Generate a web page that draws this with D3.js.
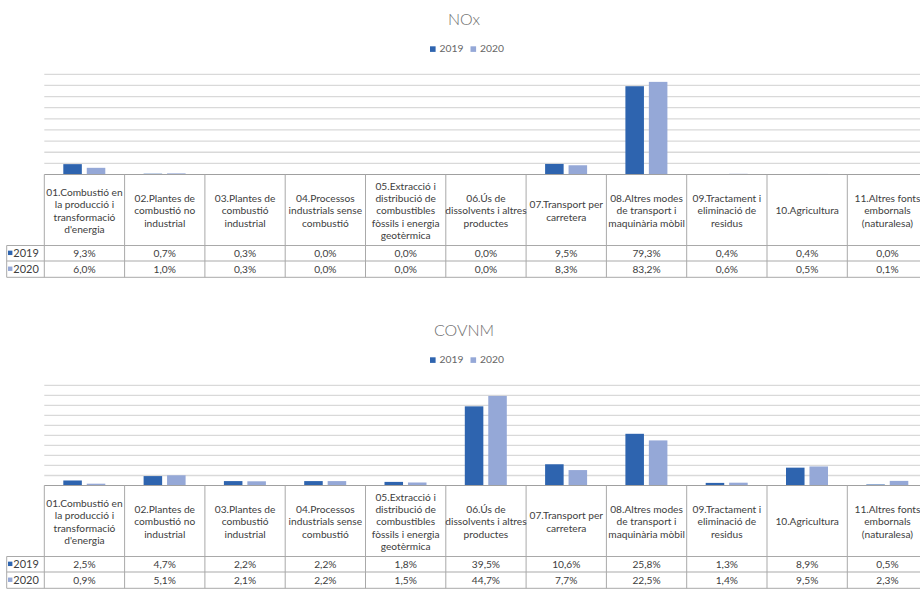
<!DOCTYPE html>
<html>
<head>
<meta charset="utf-8">
<script src="https://cdn.jsdelivr.net/npm/d3@7"></script>
<style>
  html, body { margin: 0; padding: 0; background: #fff; }
  svg { display: block; font-family: Lato, "Open Sans", sans-serif; }
</style>
</head>
<body>
<svg id="chart" width="920" height="589"></svg>
<script>
// Emission sources (header text broken into lines as shown in the table)
const categories = [
  ["01.Combustió en", "la producció i", "transformació", "d'energia"],
  ["02.Plantes de", "combustió no", "industrial"],
  ["03.Plantes de", "combustió", "industrial"],
  ["04.Processos", "industrials sense", "combustió"],
  ["05.Extracció i", "distribució de", "combustibles", "fòssils i energia", "geotèrmica"],
  ["06.Ús de", "dissolvents i altres", "productes"],
  ["07.Transport per", "carretera"],
  ["08.Altres modes", "de transport i", "maquinària mòbil"],
  ["09.Tractament i", "eliminació de", "residus"],
  ["10.Agricultura"],
  ["11.Altres fonts", "embornals", "(naturalesa)"]
];
const years = ["2019", "2020"];

// Share of total emissions (%) per source
const nox2019 = [9.3, 0.7, 0.3, 0.0, 0.0, 0.0, 9.5, 79.3, 0.4, 0.4, 0.0];
const nox2020 = [6.0, 1.0, 0.3, 0.0, 0.0, 0.0, 8.3, 83.2, 0.6, 0.5, 0.1];
const covnm2019 = [2.5, 4.7, 2.2, 2.2, 1.8, 39.5, 10.6, 25.8, 1.3, 8.9, 0.5];
const covnm2020 = [0.9, 5.1, 2.1, 2.2, 1.5, 44.7, 7.7, 22.5, 1.4, 9.5, 2.3];

// Gridline values of each value axis
const noxTicks = [0, 10, 20, 30, 40, 50, 60, 70, 80, 90];
const covnmTicks = [0, 5, 10, 15, 20, 25, 30, 35, 40, 45, 50];

const colors = { "2019": "#2E64AF", "2020": "#95A8D7" };
const locale = d3.formatLocale({ decimal: ",", thousands: ".", grouping: [3], currency: ["", "€"] });
const fmt = v => locale.format(".1f")(v) + "%";

const svg = d3.select("#chart");

const colStart = 44.3, colW = 80.3;
const x = d3.scaleBand()
  .domain(d3.range(categories.length))
  .range([colStart, colStart + colW * categories.length])
  .padding(0);
const xYear = d3.scaleBand().domain(years).range([19, 61]).paddingInner(0.21);

function drawChart(top, title, v2019, v2020, ticks) {
  const g = svg.append("g").attr("transform", `translate(0,${top})`);
  const baseY = 174.5, gridTop = 74.3;
  const y = d3.scaleLinear().domain([0, d3.max(ticks)]).range([baseY, gridTop]);
  const xR = x.range()[1];

  // Title and legend
  g.append("text").attr("x", 464).attr("y", 25).attr("text-anchor", "middle")
    .attr("font-size", 16).attr("font-weight", 300).attr("fill", "#6e6e6e").text(title);
  const leg = g.append("g").attr("transform", "translate(430,0)");
  years.forEach((yr, i) => {
    const lx = i * 40.5;
    leg.append("rect").attr("x", lx).attr("y", 46.3).attr("width", 5.6).attr("height", 5.6).attr("fill", colors[yr]);
    leg.append("text").attr("x", lx + 9.5).attr("y", 52.3).attr("font-size", 10.3).attr("fill", "#666").text(yr);
  });

  // Horizontal gridlines
  g.append("g").selectAll("line").data(ticks.filter(t => t > 0)).join("line")
    .attr("x1", colStart).attr("x2", xR)
    .attr("y1", d => y(d)).attr("y2", d => y(d))
    .attr("stroke", "#d9d9d9").attr("stroke-width", 1.3);

  // Bars
  const rows = categories.map((c, i) => ({ i, vals: { "2019": v2019[i], "2020": v2020[i] } }));
  const grp = g.append("g").selectAll("g").data(rows).join("g")
    .attr("transform", d => `translate(${x(d.i)},0)`);
  grp.selectAll("rect").data(d => years.map(yr => ({ yr, v: d.vals[yr] }))).join("rect")
    .attr("x", d => xYear(d.yr)).attr("width", xYear.bandwidth())
    .attr("y", d => y(d.v)).attr("height", d => baseY - y(d.v))
    .attr("fill", d => colors[d.yr]);

  // Data table
  const headBot = 245.5, row1 = 261, row2 = 277.3;
  const border = "#a9a9a9";
  const tb = g.append("g");
  tb.append("line").attr("x1", colStart).attr("x2", xR).attr("y1", baseY).attr("y2", baseY)
    .attr("stroke", "#a0a0a0").attr("stroke-width", 1.2);
  [headBot, row1, row2].forEach(yy => {
    tb.append("line").attr("x1", 6.7).attr("x2", xR).attr("y1", yy).attr("y2", yy)
      .attr("stroke", border).attr("stroke-width", 1);
  });
  tb.append("line").attr("x1", 6.7).attr("x2", 6.7).attr("y1", headBot).attr("y2", row2)
    .attr("stroke", border).attr("stroke-width", 1);
  tb.selectAll(".vline").data(d3.range(categories.length + 1)).join("line")
    .attr("class", "vline")
    .attr("x1", i => colStart + i * colW).attr("x2", i => colStart + i * colW)
    .attr("y1", baseY).attr("y2", row2)
    .attr("stroke", border).attr("stroke-width", 1);

  // Header labels
  const lh = 12.4, hc = (baseY + headBot) / 2 + 0.7;
  categories.forEach((lines, i) => {
    const cx = x(i) + colW / 2;
    const t = tb.append("text").attr("text-anchor", "middle").attr("font-size", 10.2).attr("fill", "#404040");
    lines.forEach((ln, k) => {
      t.append("tspan").attr("x", cx)
        .attr("y", hc + (k - (lines.length - 1) / 2) * lh + 3.6).text(ln);
    });
  });

  // Value rows
  const series = [{ yr: "2019", vals: v2019, y0: headBot, y1: row1 }, { yr: "2020", vals: v2020, y0: row1, y1: row2 }];
  series.forEach(s => {
    const cy = (s.y0 + s.y1) / 2;
    tb.append("rect").attr("x", 8).attr("y", cy - 2.6).attr("width", 4.4).attr("height", 4.4).attr("fill", colors[s.yr]);
    tb.append("text").attr("x", 13.3).attr("y", cy + 4).attr("font-size", 11).attr("fill", "#404040").text(s.yr);
    s.vals.forEach((v, i) => {
      tb.append("text").attr("x", x(i) + colW / 2).attr("y", cy + 4)
        .attr("text-anchor", "middle").attr("font-size", 10.2).attr("fill", "#404040").text(fmt(v));
    });
  });
}

drawChart(0, "NOx", nox2019, nox2020, noxTicks);
drawChart(311, "COVNM", covnm2019, covnm2020, covnmTicks);
</script>
</body>
</html>
